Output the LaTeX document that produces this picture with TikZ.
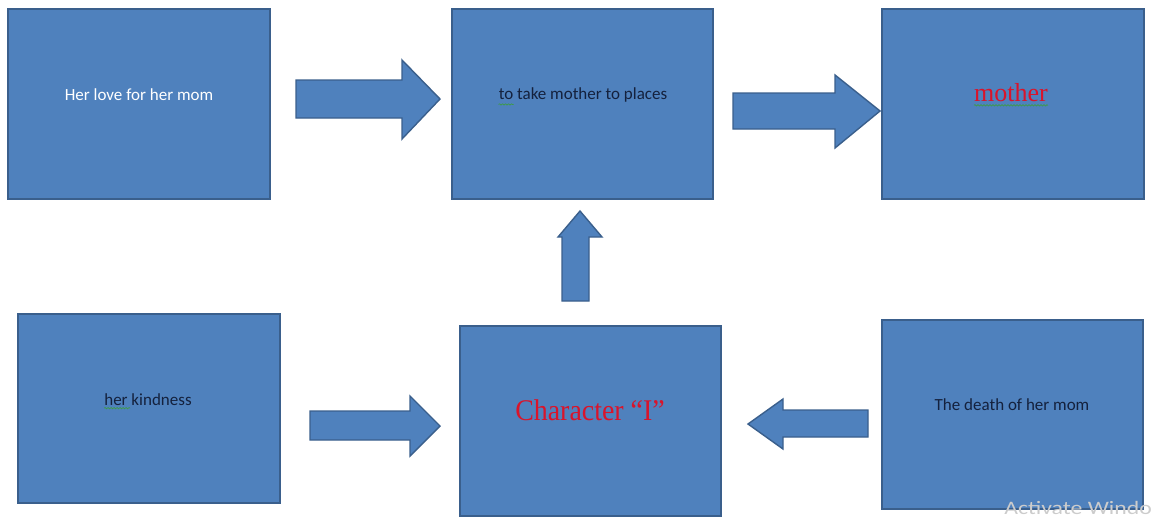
\documentclass[tikz,border=0pt]{standalone}
\usepackage{fontspec}
\setmainfont{Carlito}
\newfontfamily\serifrm{Liberation Serif}
\usetikzlibrary{shapes.arrows,decorations.pathmorphing}
\definecolor{boxfill}{HTML}{4F81BD}
\definecolor{boxline}{HTML}{3A5F8C}
\definecolor{darktxt}{HTML}{14213D}
\definecolor{redtxt}{HTML}{D9142B}
\definecolor{squig}{HTML}{3E9A4A}
\tikzset{
  x=1pt, y=-1pt,
  box/.style={draw=boxline, line width=1.6pt, fill=boxfill},
  arr/.style={draw=boxline, line width=1.4pt, fill=boxfill, line join=miter},
  lbl/.style={font=\fontsize{17}{19}\selectfont, text=darktxt, inner sep=0pt},
  squiggle/.style={draw=squig, line width=0.7pt, decorate, decoration={snake, amplitude=0.7pt, segment length=3pt}}
}
\begin{document}
\begin{tikzpicture}
\useasboundingbox (0,0) rectangle (1155,520);
% boxes
\draw[box] (8,9) rectangle (270,199);
\draw[box] (452,9) rectangle (713,199);
\draw[box] (882,9) rectangle (1144,199);
\draw[box] (18,314) rectangle (280,503);
\draw[box] (460,326) rectangle (721,516);
\draw[box] (882,320) rectangle (1143,509);
% labels
\node[lbl, text=white] (t1) at (139,95) {Her love for her mom};
\node[lbl] (t2) at (583,95) {to take mother to places};
\node[inner sep=0pt, text=redtxt, font=\serifrm\fontsize{26}{28}\selectfont] (t3) at (1011,93) {mother};
\node[lbl] (t4) at (148,400) {her kindness};
\node[inner sep=0pt, text=redtxt, font=\serifrm\fontsize{30}{32}\selectfont] (t5) at (590,410) {\scalebox{0.93}[1]{Character “I”}};
\node[lbl] (t6) at (1012,405) {The death of her mom};
% spell-check squiggles
\draw[squiggle] (t2.south west) ++(0,2) -- ++(15,0);
\draw[squiggle] (t3.south west) ++(0,3) -- ([yshift=-3pt]t3.south east);
\draw[squiggle] (t4.south west) ++(0,2) -- ++(26,0);
% block arrows
\draw[arr] (296,80) -- (402,80) -- (402,60) -- (440,99) -- (402,139) -- (402,118) -- (296,118) -- cycle;
\draw[arr] (733,93) -- (835,93) -- (835,75) -- (880,111) -- (835,148) -- (835,129) -- (733,129) -- cycle;
\draw[arr] (310,411) -- (410,411) -- (410,396) -- (440,426) -- (410,456) -- (410,440) -- (310,440) -- cycle;
\draw[arr] (868,410) -- (783,410) -- (783,399) -- (748,424) -- (783,449) -- (783,437) -- (868,437) -- cycle;
\draw[arr] (562,301) -- (562,237) -- (558,237) -- (580,211) -- (602,237) -- (589,237) -- (589,301) -- cycle;
% watermark
\node[anchor=east, inner sep=0pt, text=black!20, font=\fontsize{19}{21}\selectfont] (wm) at (1152,508) {\scalebox{1.25}[1]{Activate Windo}};
\end{tikzpicture}
\end{document}
